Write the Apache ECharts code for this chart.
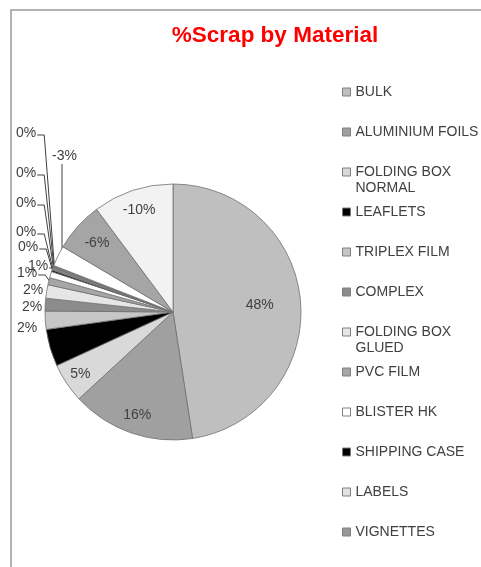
<!DOCTYPE html>
<html>
<head>
<meta charset="utf-8">
<script src="https://cdn.jsdelivr.net/npm/echarts@6/dist/echarts.min.js"></script>
<style>
  html, body { margin: 0; padding: 0; background: #ffffff; }
  #chart { width: 481px; height: 567px; }
</style>
</head>
<body>
<div id="chart"></div>
<script>
// Scrap share per material (percent, signed)
const materials = [
  'BULK', 'ALUMINIUM FOILS', 'FOLDING BOX NORMAL', 'LEAFLETS', 'TRIPLEX FILM',
  'COMPLEX', 'FOLDING BOX GLUED', 'PVC FILM', 'BLISTER HK', 'SHIPPING CASE',
  'LABELS', 'VIGNETTES', 'MATERIAL 13', 'MATERIAL 14', 'MATERIAL 15',
  'MATERIAL 16', 'MATERIAL 17'
];
const scrapPct = [
  47.6, 15.6, 5.0, 4.7, 2.3,
  1.6, 1.7, 0.9, 0.8, 0.2,
  0.1, 0.2, 0.1, 0.2, -2.6,
  -6.3, -10.2
];
const sliceColors = [
  '#bfbfbf', '#a0a0a0', '#d9d9d9', '#000000', '#c6c6c6',
  '#8c8c8c', '#e6e6e6', '#a6a6a6', '#ffffff', '#000000',
  '#e2e2e2', '#999999', '#bfbfbf', '#7f7f7f', '#ffffff',
  '#a5a5a5', '#f2f2f2'
];
// Legend entries that fit in the panel
const legendCount = 12;

// Pie geometry and label placement
const cx = 173, cy = 312, R = 128;
const insideLabelRadius = { 0: 0.68, 1: 0.85, 2: 0.87, 3: 0.85, 15: 0.8, 16: 0.84 };
const outsideLabelSpots = {
  4: [17, 328], 5: [22, 307], 6: [23, 290], 7: [17, 273], 8: [28, 266],
  9: [18, 247], 10: [16, 232], 11: [16, 203], 12: [16, 173], 13: [16, 133],
  14: [52, 156]
};
const noLeader = { 4: true, 5: true, 6: true };

const sliceSizes = scrapPct.map(v => Math.abs(v));
const total = sliceSizes.reduce((a, b) => a + b, 0);
function midAngle(i) {
  let c = 0;
  for (let k = 0; k < i; k++) c += sliceSizes[k];
  return (c + sliceSizes[i] / 2) / total * 2 * Math.PI;
}
function polar(a, r) {
  return [cx + r * Math.sin(a), cy - r * Math.cos(a)];
}
function wrapName(name) {
  if (name.length <= 15) return name;
  const cut = name.lastIndexOf(' ', 15);
  return name.slice(0, cut) + '\n' + name.slice(cut + 1);
}

const FONT = "'Liberation Sans', Arial, sans-serif";

// One legend block per material, stacked at a fixed pitch.
// Wrapped names get a blank leading line so the marker sits beside the first text line.
const legends = materials.slice(0, legendCount).map((name, i) => {
  const twoLines = wrapName(name).indexOf('\n') >= 0;
  return {
    show: true,
    orient: 'vertical',
    left: 342,
    top: 84 + 40 * i - (twoLines ? 16 : 0),
    padding: 0,
    itemWidth: 8,
    itemHeight: 8,
    selectedMode: false,
    icon: 'rect',
    data: [name],
    formatter: n => {
      const w = wrapName(n);
      return w.indexOf('\n') >= 0 ? ' \n' + w : w;
    },
    itemStyle: { borderColor: '#7f7f7f', borderWidth: 1 },
    textStyle: { fontFamily: FONT, fontSize: 14, color: '#404040', lineHeight: 16 }
  };
});

const chart = echarts.init(document.getElementById('chart'), null, { renderer: 'canvas' });

chart.setOption({
  backgroundColor: '#ffffff',
  animation: false,
  title: {
    text: '%Scrap by Material',
    left: 275,
    top: 25,
    textAlign: 'center',
    padding: 0,
    textStyle: { fontFamily: FONT, fontSize: 22.5, fontWeight: 'bold', color: '#ff0000', lineHeight: 22 }
  },
  graphic: [{
    type: 'rect',
    silent: true,
    shape: { x: 11, y: 10, width: 520, height: 620 },
    style: { fill: 'none', stroke: '#9a9a9a', lineWidth: 1.5 }
  }],
  legend: legends,
  series: [{
    type: 'pie',
    center: [cx, cy],
    radius: R,
    startAngle: 90,
    clockwise: true,
    avoidLabelOverlap: false,
    emphasis: { disabled: true },
    itemStyle: { borderColor: '#707070', borderWidth: 0.8 },
    label: {
      fontFamily: FONT,
      fontSize: 14,
      color: '#404040',
      formatter: p => Math.round(scrapPct[p.dataIndex]) + '%'
    },
    labelLine: { length: 8, length2: 8, smooth: false, lineStyle: { color: '#404040', width: 1 } },
    data: materials.map((name, i) => {
      const inside = insideLabelRadius[i] != null;
      return {
        name: name,
        value: sliceSizes[i],
        itemStyle: { color: sliceColors[i] },
        label: {
          position: inside ? 'inside' : 'outside',
          // dark label text on a black slice
          color: inside && sliceColors[i] === '#000000' ? '#000000' : '#404040'
        },
        labelLine: { show: !inside && !noLeader[i] }
      };
    }),
    labelLayout: function (p) {
      const i = p.dataIndex;
      const a = midAngle(i);
      if (insideLabelRadius[i] != null) {
        const pt = polar(a, R * insideLabelRadius[i]);
        return { x: pt[0], y: pt[1], align: 'center', verticalAlign: 'middle' };
      }
      const spot = outsideLabelSpots[i];
      const w = p.labelRect.width;
      const out = { x: spot[0], y: spot[1], align: 'left', verticalAlign: 'middle' };
      if (!noLeader[i]) {
        const anchor = polar(a, R - 1);
        if (i === 14) {
          out.labelLinePoints = [anchor, [62, anchor[1]], [62, spot[1] + 8]];
        } else {
          out.labelLinePoints = [anchor, [spot[0] + w + 8, spot[1] + 2], [spot[0] + w + 1, spot[1] + 2]];
        }
      }
      return out;
    }
  }]
});
</script>
</body>
</html>
